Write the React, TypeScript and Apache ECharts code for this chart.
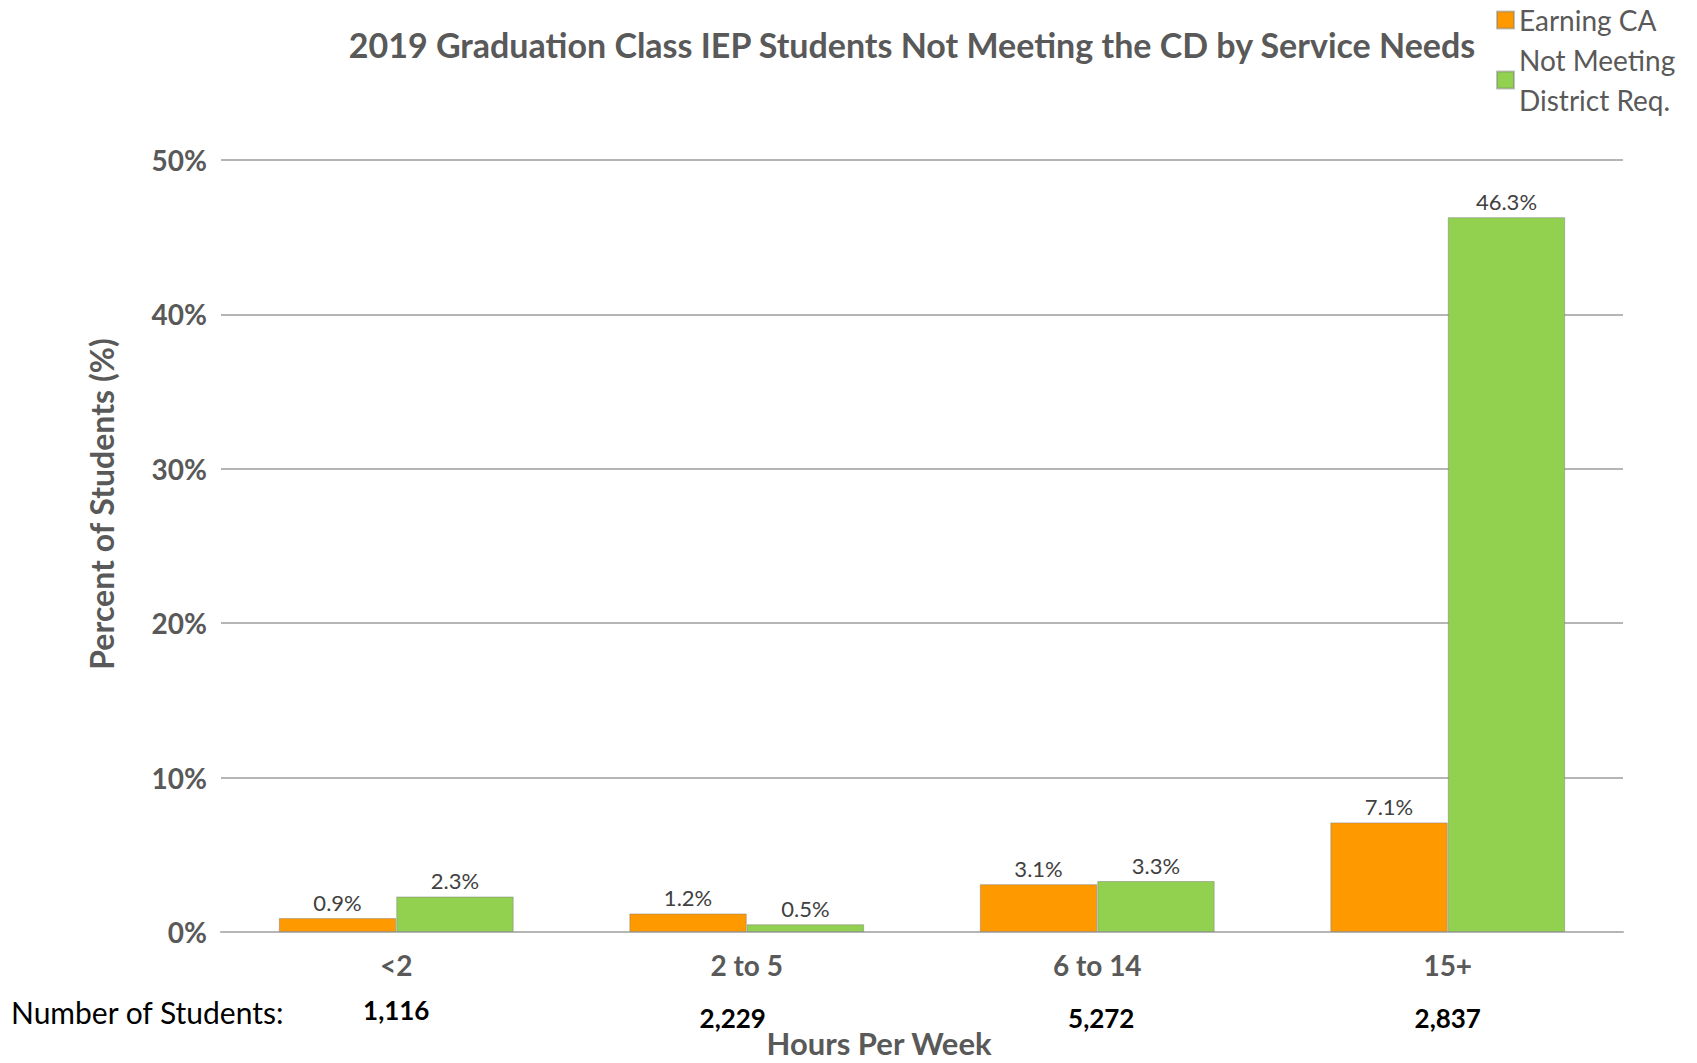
import { useEffect, useRef } from "react";
import * as echarts from "echarts";

const categories = ["<2", "2 to 5", "6 to 14", "15+"];
const earningCA = [0.9, 1.2, 3.1, 7.1];
const notMeeting = [2.3, 0.5, 3.3, 46.3];
const studentCounts = ["1,116", "2,229", "5,272", "2,837"];
const seriesNames = ["Earning CA", "Not Meeting\nDistrict Req."];
const titleText = "2019 Graduation Class IEP Students Not Meeting the CD by Service Needs";
const xAxisTitle = "Hours Per Week";
const yAxisTitle = "Percent of Students (%)";
const countLabel = "Number of Students:";

const FONT = "Lato, 'Open Sans', sans-serif";
const GRAY = "#595959";
const GRID = "#b5b5b5";
// small hand-placed shifts of the count text boxes (as in the source slide)
const countDx = [0, -14, 4, 0];
const countDy = [78, 86, 86, 86];

export default function App() {
  const ref = useRef<HTMLDivElement>(null);
  useEffect(() => {
    document.body.style.margin = "0";
    const chart = echarts.init(ref.current!, null, { renderer: "svg" });
    const labelStyle = {
      show: true,
      position: "top",
      distance: 5,
      formatter: "{c}%",
      fontFamily: FONT,
      fontSize: 22,
      color: "#404040",
    };
    chart.setOption({
      animation: false,
      backgroundColor: "#ffffff",
      title: {
        text: titleText,
        left: 907,
        top: 22,
        textAlign: "center",
        textStyle: { fontFamily: FONT, fontSize: 34, fontWeight: "bold", color: GRAY },
      },
      legend: {
        orient: "vertical",
        left: 1496,
        top: 0,
        padding: 0,
        itemWidth: 17,
        itemHeight: 17,
        itemGap: 0,
        icon: "rect",
        data: seriesNames,
        textStyle: { fontFamily: FONT, fontSize: 28, color: GRAY, lineHeight: 40 },
      },
      grid: { left: 221, right: 74, top: 160, bottom: 131 },
      xAxis: {
        type: "category",
        data: categories,
        axisTick: { show: false },
        axisLine: { lineStyle: { color: GRID, width: 2 } },
        axisLabel: { fontFamily: FONT, fontSize: 28, fontWeight: "bold", color: GRAY, margin: 19 },
      },
      yAxis: {
        type: "value",
        min: 0,
        max: 50,
        interval: 10,
        axisLine: { show: false },
        axisTick: { show: false },
        splitLine: { lineStyle: { color: GRID, width: 2 } },
        axisLabel: {
          formatter: "{value}%",
          fontFamily: FONT,
          fontSize: 28,
          fontWeight: "bold",
          color: GRAY,
          margin: 14,
        },
        name: yAxisTitle,
        nameLocation: "middle",
        nameGap: 104,
        nameTextStyle: {
          fontFamily: FONT,
          fontSize: 32,
          fontWeight: "bold",
          color: GRAY,
          padding: [0, 0, 0, 84],
        },
      },
      series: [
        {
          name: seriesNames[0],
          type: "bar",
          data: earningCA,
          barGap: "0%",
          barCategoryGap: "33%",
          itemStyle: { color: "#ff9900", borderColor: "rgba(120,120,120,0.45)", borderWidth: 1 },
          label: labelStyle,
        },
        {
          name: seriesNames[1],
          type: "bar",
          data: notMeeting,
          barGap: "0%",
          barCategoryGap: "33%",
          itemStyle: { color: "#92d050", borderColor: "rgba(120,120,120,0.45)", borderWidth: 1 },
          label: labelStyle,
        },
      ],
    });

    const axisY = chart.convertToPixel({ yAxisIndex: 0 }, 0) as number;
    const graphics: any[] = studentCounts.map((c, i) => {
      const x = chart.convertToPixel({ xAxisIndex: 0 }, categories[i]) as number;
      return {
        type: "text",
        x: x + countDx[i],
        y: axisY + countDy[i],
        style: {
          text: c,
          fontFamily: FONT,
          fontSize: 26,
          fontWeight: "bold",
          fill: "#000000",
          align: "center",
          verticalAlign: "middle",
        },
      };
    });
    graphics.push({
      type: "text",
      x: 11,
      y: axisY + 80,
      style: {
        text: countLabel,
        fontFamily: FONT,
        fontSize: 30,
        fill: "#000000",
        align: "left",
        verticalAlign: "middle",
      },
    });
    graphics.push({
      type: "text",
      x: 879,
      y: axisY + 111,
      style: {
        text: xAxisTitle,
        fontFamily: FONT,
        fontSize: 31,
        fontWeight: "bold",
        fill: GRAY,
        align: "center",
        verticalAlign: "middle",
      },
    });
    chart.setOption({ graphic: graphics });
    return () => chart.dispose();
  }, []);
  return <div ref={ref} style={{ width: 1697, height: 1063 }} />;
}
